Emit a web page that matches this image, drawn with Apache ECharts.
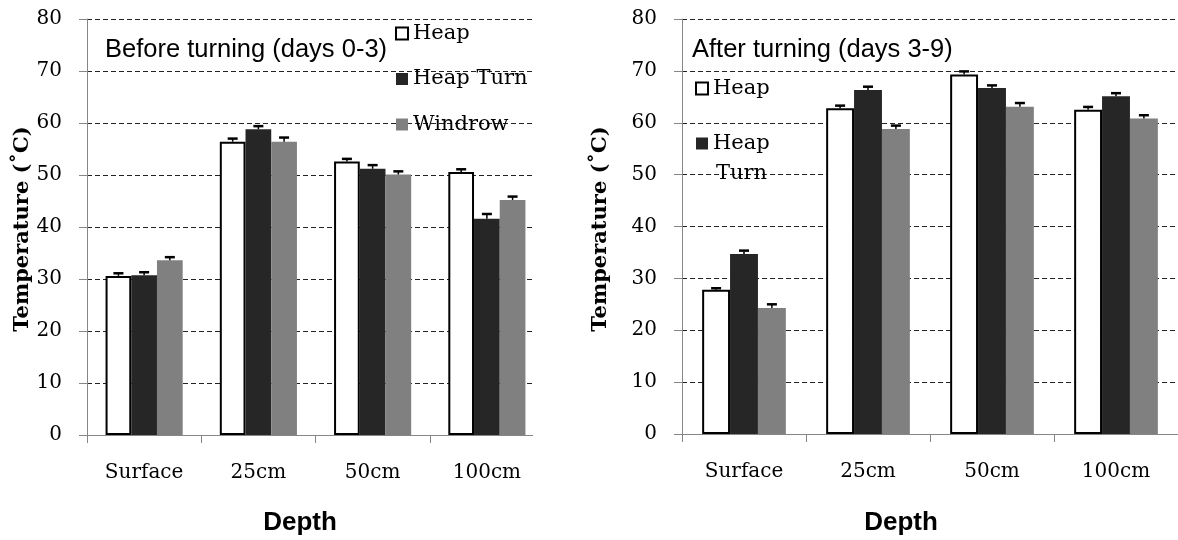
<!DOCTYPE html>
<html>
<head>
<meta charset="utf-8">
<script src="https://cdn.jsdelivr.net/npm/echarts@6/dist/echarts.min.js"></script>
<style>
  html, body { margin: 0; padding: 0; background: #fff; }
  #chart { width: 1178px; height: 540px; }
</style>
</head>
<body>
<div id="chart"></div>
<script>
// depth categories
const depths = ['Surface', '25cm', '50cm', '100cm'];
const yTicks = [0, 10, 20, 30, 40, 50, 60, 70, 80];

// before turning (days 0-3)
const heapBefore = [30.6, 56.4, 52.6, 50.6];
const turnBefore = [30.7, 58.8, 51.2, 41.6];
const windrowBefore = [33.6, 56.4, 50.1, 45.2];
const heapBeforeErr = [0.5, 0.6, 0.5, 0.5];
const turnBeforeErr = [0.6, 0.6, 0.7, 0.9];
const windrowBeforeErr = [0.6, 0.8, 0.6, 0.65];

// after turning (days 3-9)
const heapAfter = [27.8, 62.8, 69.3, 62.5];
const turnAfter = [34.7, 66.3, 66.7, 65.1];
const windrowAfter = [24.3, 58.8, 63.1, 60.8];
const heapAfterErr = [0.3, 0.5, 0.6, 0.55];
const turnAfterErr = [0.65, 0.65, 0.5, 0.6];
const windrowAfterErr = [0.7, 0.65, 0.7, 0.65];

const serif = 'DejaVu Serif';
const sans = 'Liberation Sans';
const groupFrac = 0.675;

const colors = {
    'Heap': '#ffffff',
    'Heap Turn': '#262626',
    'Windrow': '#808080'
};

function barSeries(name, vals, idx) {
    return {
        type: 'bar',
        name: name,
        xAxisIndex: idx,
        yAxisIndex: idx,
        data: vals,
        barGap: '0%',
        barCategoryGap: '32.5%',
        itemStyle: name === 'Heap'
            ? {color: '#ffffff', borderColor: '#000', borderWidth: 2}
            : {color: colors[name]},
        z: 2
    };
}

function errSeries(vals, errs, k, idx) {
    return {
        type: 'custom',
        xAxisIndex: idx,
        yAxisIndex: idx,
        silent: true,
        z: 3,
        data: vals.map(function (v, i) { return [i, v, errs[i]]; }),
        renderItem: function (params, api) {
            const base = api.coord([api.value(0), api.value(1)]);
            const top = api.coord([api.value(0), api.value(1) + api.value(2)]);
            const band = api.size([1, 0])[0];
            const bw = band * groupFrac / 3;
            const x = base[0] - band * groupFrac / 2 + bw * (k + 0.5);
            return {
                type: 'group',
                children: [
                    {type: 'line', shape: {x1: x, y1: base[1], x2: x, y2: top[1]},
                        style: {stroke: '#000', lineWidth: 1.5}},
                    {type: 'line', shape: {x1: x - 5, y1: top[1], x2: x + 5, y2: top[1]},
                        style: {stroke: '#000', lineWidth: 2.5}}
                ]
            };
        }
    };
}

function xAxis(idx) {
    return {
        type: 'category',
        gridIndex: idx,
        data: depths,
        axisLine: {lineStyle: {color: '#868686', width: 1}},
        axisTick: {show: true, length: 8, lineStyle: {color: '#868686'}},
        axisLabel: {color: '#000', fontFamily: serif, fontSize: 20, margin: 28}
    };
}

function yAxis(idx) {
    return {
        type: 'value',
        gridIndex: idx,
        min: yTicks[0],
        max: yTicks[yTicks.length - 1],
        interval: yTicks[1] - yTicks[0],
        axisLine: {show: true, lineStyle: {color: '#868686', width: 1}},
        axisTick: {show: true, length: 8, lineStyle: {color: '#868686'}},
        axisLabel: {color: '#000', fontFamily: serif, fontSize: 20, margin: 25},
        splitLine: {show: true, showMinLine: false, lineStyle: {color: '#222', type: [5, 3], width: 1}}
    };
}

const chart = echarts.init(document.getElementById('chart'), null, {renderer: 'canvas'});

const option = {
    animation: false,
    backgroundColor: '#fff',
    grid: [
        {left: 87, top: 19, width: 457, height: 416},
        {left: 682, top: 19, width: 519, height: 415}
    ],
    xAxis: [xAxis(0), xAxis(1)],
    yAxis: [yAxis(0), yAxis(1)],
    legend: [
        {
            data: ['Heap', 'Heap Turn', 'Windrow'],
            orient: 'vertical',
            left: 395,
            top: 23,
            padding: 0,
            itemGap: 24.5,
            itemWidth: 12,
            itemHeight: 12,
            icon: 'rect',
            textStyle: {color: '#000', fontFamily: serif, fontSize: 21}
        },
        {
            data: ['Heap', 'Heap Turn'],
            orient: 'vertical',
            left: 695,
            top: 78,
            padding: 0,
            itemGap: 34,
            itemWidth: 12,
            itemHeight: 12,
            icon: 'rect',
            formatter: function (name) { return name === 'Heap Turn' ? 'Heap' : name; },
            textStyle: {color: '#000', fontFamily: serif, fontSize: 21}
        }
    ],
    series: [
        barSeries('Heap', heapBefore, 0),
        barSeries('Heap Turn', turnBefore, 0),
        barSeries('Windrow', windrowBefore, 0),
        errSeries(heapBefore, heapBeforeErr, 0, 0),
        errSeries(turnBefore, turnBeforeErr, 1, 0),
        errSeries(windrowBefore, windrowBeforeErr, 2, 0),
        barSeries('Heap', heapAfter, 1),
        barSeries('Heap Turn', turnAfter, 1),
        barSeries('Windrow', windrowAfter, 1),
        errSeries(heapAfter, heapAfterErr, 0, 1),
        errSeries(turnAfter, turnAfterErr, 1, 1),
        errSeries(windrowAfter, windrowAfterErr, 2, 1)
    ],
    graphic: [
        // the left plot area is cut off on its right side in the original
        {type: 'rect', z: 50, shape: {x: 533, y: 0, width: 40, height: 446}, style: {fill: '#fff'}},
        {type: 'text', z: 60, x: 105, y: 50, style: {text: 'Before turning (days 0-3)', font: '25.5px ' + sans, fill: '#000', textVerticalAlign: 'middle'}},
        {type: 'text', z: 60, x: 692, y: 50, style: {text: 'After turning (days 3-9)', font: '25.5px ' + sans, fill: '#000', textVerticalAlign: 'middle'}},
        {type: 'text', z: 60, x: 716, y: 174, style: {text: 'Turn', font: '21px "' + serif + '"', fill: '#000', textVerticalAlign: 'middle'}},
        {type: 'text', z: 60, x: 300, y: 523, style: {text: 'Depth', font: 'bold 26px ' + sans, fill: '#000', textAlign: 'center', textVerticalAlign: 'middle'}},
        {type: 'text', z: 60, x: 901, y: 523, style: {text: 'Depth', font: 'bold 26px ' + sans, fill: '#000', textAlign: 'center', textVerticalAlign: 'middle'}},
        {type: 'text', z: 60, x: 23, y: 229, rotation: Math.PI / 2, style: {text: 'Temperature (˚C)', font: 'bold 21px "' + serif + '"', fill: '#000', textAlign: 'center', textVerticalAlign: 'middle'}},
        {type: 'text', z: 60, x: 601, y: 229, rotation: Math.PI / 2, style: {text: 'Temperature (˚C)', font: 'bold 21px "' + serif + '"', fill: '#000', textAlign: 'center', textVerticalAlign: 'middle'}}
    ]
};

chart.setOption(option);
</script>
</body>
</html>
